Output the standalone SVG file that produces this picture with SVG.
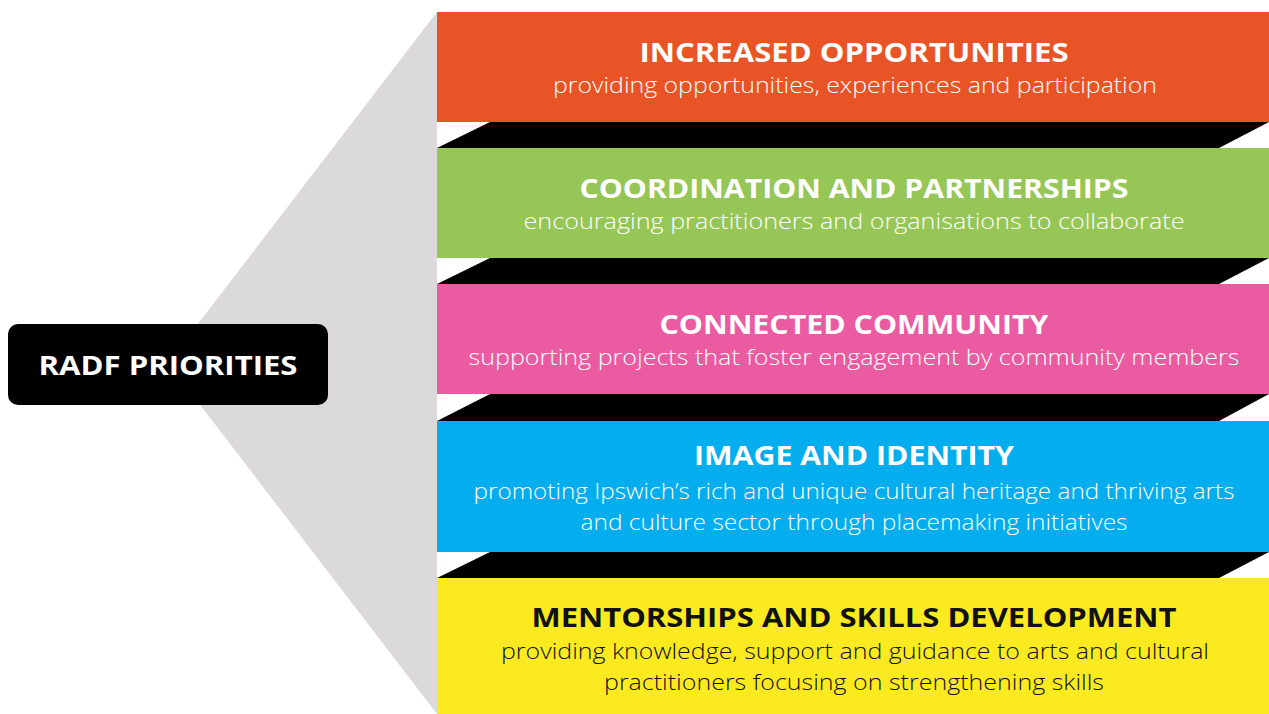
<svg xmlns="http://www.w3.org/2000/svg" width="1269" height="714" viewBox="0 0 1269 714">
<style>
.t{font-family:"Open Sans","Liberation Sans",sans-serif;font-weight:700;font-size:27px;text-anchor:middle}
.s{font-family:"Open Sans","Liberation Sans",sans-serif;font-weight:300;font-size:22px;text-anchor:middle}
.w{fill:#ffffff}
.k{fill:#111111}
.band{fill:#000000}
</style>
<rect width="1269" height="714" fill="#ffffff"/>
<polygon points="437,12 437,714 168,363" fill="#dbd9da"/>
<g id="connectors">
<polygon class="band" points="490,122 1269,122 1219,148 437,148"/>
<polygon class="band" points="490,258 1269,258 1219,284 437,284"/>
<polygon class="band" points="490,394 1269,394 1219,421 437,421"/>
<polygon class="band" points="490,552 1269,552 1219,578 437,578"/>
</g>
<g id="radf">
<rect x="8" y="324" width="320" height="81" rx="10" fill="#000000"/>
<text class="t w" x="168" y="375" font-size="27" textLength="259" lengthAdjust="spacingAndGlyphs">RADF PRIORITIES</text>
</g>
<g id="increased">
<rect x="437" y="12" width="832" height="110" fill="#e85426"/>
<text class="t w" x="854" y="62" textLength="429" lengthAdjust="spacingAndGlyphs">INCREASED OPPORTUNITIES</text>
<text class="s w" x="855" y="93" textLength="604" lengthAdjust="spacingAndGlyphs">providing opportunities, experiences and participation</text>
</g>
<g id="coordination">
<rect x="437" y="148" width="832" height="110" fill="#95c656"/>
<text class="t w" x="854" y="198" textLength="549" lengthAdjust="spacingAndGlyphs">COORDINATION AND PARTNERSHIPS</text>
<text class="s w" x="854" y="229" textLength="661" lengthAdjust="spacingAndGlyphs">encouraging practitioners and organisations to collaborate</text>
</g>
<g id="connected">
<rect x="437" y="284" width="832" height="110" fill="#ea5ba1"/>
<text class="t w" x="854" y="334" textLength="389" lengthAdjust="spacingAndGlyphs">CONNECTED COMMUNITY</text>
<text class="s w" x="854" y="365" textLength="771" lengthAdjust="spacingAndGlyphs">supporting projects that foster engagement by community members</text>
</g>
<g id="image">
<rect x="437" y="421" width="832" height="131" fill="#03adee"/>
<text class="t w" x="854" y="465" textLength="320" lengthAdjust="spacingAndGlyphs">IMAGE AND IDENTITY</text>
<text class="s w" x="854" y="499" textLength="761" lengthAdjust="spacingAndGlyphs">promoting Ipswich’s rich and unique cultural heritage and thriving arts</text>
<text class="s w" x="854" y="530" textLength="547" lengthAdjust="spacingAndGlyphs">and culture sector through placemaking initiatives</text>
</g>
<g id="mentorships">
<rect x="437" y="578" width="832" height="136" fill="#fcea21"/>
<text class="t k" x="854" y="627" textLength="645" lengthAdjust="spacingAndGlyphs">MENTORSHIPS AND SKILLS DEVELOPMENT</text>
<text class="s k" x="855" y="659" textLength="708" lengthAdjust="spacingAndGlyphs">providing knowledge, support and guidance to arts and cultural</text>
<text class="s k" x="854" y="690" textLength="500" lengthAdjust="spacingAndGlyphs">practitioners focusing on strengthening skills</text>
</g>
</svg>
